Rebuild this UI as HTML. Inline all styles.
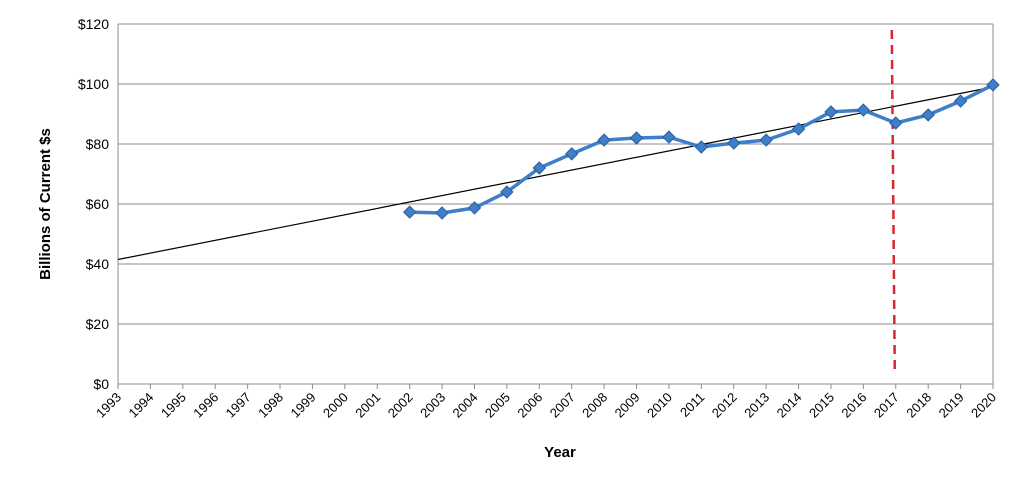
<!DOCTYPE html>
<html><head><meta charset="utf-8"><style>
body{margin:0;background:#fff;width:1024px;height:479px;overflow:hidden;font-family:"Liberation Sans",sans-serif}
</style></head><body>
<svg id="chart" width="1024" height="479" xmlns="http://www.w3.org/2000/svg"></svg>
<script>
const years=[1993,1994,1995,1996,1997,1998,1999,2000,2001,2002,2003,2004,2005,2006,2007,2008,2009,2010,2011,2012,2013,2014,2015,2016,2017,2018,2019,2020];
const seriesYears=[2002,2003,2004,2005,2006,2007,2008,2009,2010,2011,2012,2013,2014,2015,2016,2017,2018,2019,2020];
const seriesValues=[57.3,57,58.7,64,72,76.7,81.3,82,82.3,79,80.3,81.3,85,90.7,91.3,87,89.7,94.3,99.7];
const trendStart=41.5, trendEnd=99;
const yTicks=[0,20,40,60,80,100,120];
const yTickLabels=["$0","$20","$40","$60","$80","$100","$120"];
const markerYear=2017;

const svg=document.getElementById('chart');
const NS='http://www.w3.org/2000/svg';
const L=118,R=993,T=24,B=384;
const x=yr=>L+(yr-years[0])*(R-L)/(years[years.length-1]-years[0]);
const y=v=>B-v*(B-T)/120;
function mk(tag,attrs,name){const e=document.createElementNS(NS,tag);for(const k in attrs)e.setAttribute(k,attrs[k]);


svg.appendChild(e);return e;}
yTicks.forEach((v,i)=>{
  mk('line',{x1:L,x2:R,y1:y(v),y2:y(v),stroke:'#8c8c8c','stroke-width':1},'gridline');
  const t=mk('text',{x:L-9,y:y(v)+5,'text-anchor':'end','font-size':14,fill:'#000'},'y-tick-label');t.textContent=yTickLabels[i];
});
mk('line',{x1:L,x2:L,y1:T,y2:B,stroke:'#8c8c8c'},'y-axis');
mk('line',{x1:R,x2:R,y1:T,y2:B,stroke:'#8c8c8c'},'plot-right-border');
years.forEach(yr=>{
  mk('line',{x1:x(yr),x2:x(yr),y1:B,y2:B+5,stroke:'#8c8c8c'},'x-tick');
  const t=mk('text',{x:x(yr)+4,y:B+14,'text-anchor':'end','font-size':13,transform:`rotate(-45 ${x(yr)+4} ${B+14})`},'x-tick-label');t.textContent=yr;
});
mk('line',{x1:L,x2:R,y1:y(trendStart),y2:y(trendEnd),stroke:'#000','stroke-width':1.2},'trend-line');
mk('line',{x1:x(markerYear)-4,x2:x(markerYear)-1,y1:30,y2:372,stroke:'#d9282f','stroke-width':2.5,'stroke-dasharray':'9,6'},'marker-line-2017');
mk('polyline',{points:seriesYears.map((yr,i)=>x(yr)+','+y(seriesValues[i])).join(' '),fill:'none',stroke:'#3f7ec9','stroke-width':3.5},'series-line');
seriesYears.forEach((yr,i)=>{const cx=x(yr),cy=y(seriesValues[i]);
  mk('polygon',{points:`${cx},${cy-6} ${cx+6},${cy} ${cx},${cy+6} ${cx-6},${cy}`,fill:'#3f7ec9',stroke:'#2a5e9e','stroke-width':1},'data-point');});
let t=mk('text',{x:560,y:457,'text-anchor':'middle','font-size':15,'font-weight':'bold'},'x-axis-title');t.textContent='Year';
t=mk('text',{x:50,y:204,'text-anchor':'middle','font-size':15,'font-weight':'bold',transform:'rotate(-90 50 204)'},'y-axis-title');t.textContent='Billions of Current $s';
</script>
</body></html>
